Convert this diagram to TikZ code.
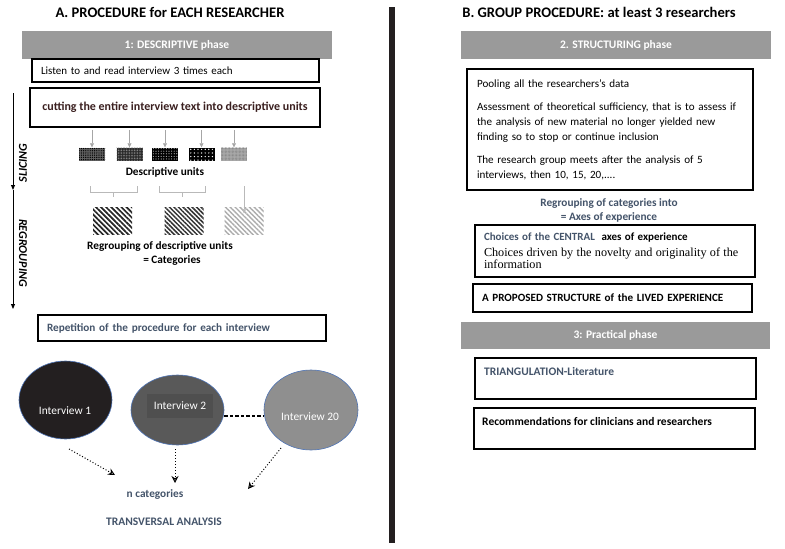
\documentclass[tikz,border=0pt]{standalone}
\usepackage{fontspec}
\setmainfont{Carlito}
\newfontfamily\timesf{Liberation Serif}
\usetikzlibrary{arrows.meta,patterns,patterns.meta,shapes.geometric}
\definecolor{bluegrey}{HTML}{44546A}
\definecolor{bargrey}{HTML}{9A9A9A}
\definecolor{cutcol}{HTML}{3A1F1F}
\definecolor{ringblue}{HTML}{4F74B5}
\definecolor{darkfill}{HTML}{231F20}
\begin{document}
\begin{tikzpicture}[x=1pt,y=-1pt,
  every node/.style={inner sep=0pt},
  title/.style={font=\bfseries\fontsize{14.6}{16}\selectfont},
  bar/.style={fill=bargrey, text=white, font=\bfseries\fontsize{11.5}{13}\selectfont, minimum height=28pt},
  box/.style={draw=black, line width=2pt, fill=white},
  gArrow/.style={draw=gray!70, line width=0.7pt, -{Triangle[length=4pt,width=4pt]}},
  brack/.style={draw=gray!55, line width=0.8pt},
  sideArrow/.style={draw=black, line width=0.9pt, -{Triangle[length=5pt,width=4pt]}},
  sideLab/.style={font=\bfseries\itshape\fontsize{12}{14}\selectfont},
  unit/.style={minimum width=26pt, minimum height=13pt},
  cat/.style={minimum width=39pt, minimum height=27pt},
  blab/.style={font=\bfseries\fontsize{11.3}{13}\selectfont},
  bgt/.style={text=bluegrey, font=\bfseries\fontsize{11.3}{13}\selectfont},
  ifont/.style={text=white, font=\fontsize{11.4}{13}\selectfont},
  interv/.style={ellipse, draw=ringblue, line width=0.6pt},
  dotArrow/.style={draw=black, dotted, line width=1pt, -{Stealth[open,length=7pt,width=7pt]}}
]
\useasboundingbox (0,0) rectangle (785,549);
\fill[white] (0,0) rectangle (785,549);

% ---------- Left half ----------
\node[title] (titleA) at (170,12) {A. PROCEDURE for EACH RESEARCHER};
\node[bar, minimum width=310pt] (bar1) at (177,45) {1: DESCRIPTIVE phase};

\node[box, minimum height=23pt, text width=269pt, inner xsep=9pt, align=left, font=\fontsize{11}{13}\selectfont] (listen) at (175.5,70.5) {Listen to and read interview 3 times each};
\node[box, line width=2.5pt, minimum width=290pt, minimum height=39pt, text=cutcol, font=\bfseries\fontsize{12}{14}\selectfont] (cut) at (175,107.5) {cutting the entire interview text into descriptive units};

% descriptive units
\node[unit, preaction={fill=gray!75!black}, pattern={Dots[distance=2.2pt,radius=0.7pt]}, pattern color=black] (du1) at (92,154) {};
\node[unit, preaction={fill=black!85}, pattern={Dots[distance=1.6pt,radius=0.45pt]}, pattern color=gray!70] (du2) at (129.5,154) {};
\node[unit, preaction={fill=black}, pattern={Dots[distance=2.6pt,radius=0.6pt]}, pattern color=gray!60] (du3) at (165,154) {};
\node[unit, preaction={fill=black}, pattern={Dots[distance=3.6pt,radius=0.7pt]}, pattern color=white] (du4) at (201.5,154) {};
\node[unit, preaction={fill=gray!65}, pattern={Dots[distance=1.4pt,radius=0.45pt]}, pattern color=gray!100] (du5) at (234,154) {};
\foreach \u in {du1,du2,du3,du4,du5}
  \draw[gArrow] (cut.south -| \u) ++(0,1.5) -- (\u.north);

\node[blab] (dulab) at (165,172) {Descriptive units};

% brackets
\draw[brack] (90,186) -- (90,192) -- (137,192) -- (137,186);
\draw[brack] (113.5,192) -- (113.5,197);
\draw[brack] (159,186) -- (159,192) -- (205,192) -- (205,186);
\draw[brack] (182,192) -- (182,197);

% categories
\node[cat, pattern={Lines[angle=-45,distance=3.6pt,line width=1.7pt]}, pattern color=black!85] (cat1) at (112.5,220.5) {};
\node[cat, pattern={Lines[angle=-45,distance=3.2pt,line width=1.5pt]}, pattern color=black!80] (cat2) at (184,220.5) {};
\node[cat, pattern={Lines[angle=-45,distance=3.4pt,line width=1.4pt]}, pattern color=gray!65] (cat3) at (244,220.5) {};
\draw[gArrow, draw=gray!55] (cat3.north |- 0,186) -- ([yshift=-7pt]cat3.north);

\node[blab] (reglab) at (160,246) {Regrouping of descriptive units};
\node[blab] (catlab) at (172,260) {= Categories};

% side arrows
\coordinate (sTop) at (13,93);
\coordinate (sMid) at (13,190);
\coordinate (sBot) at (13,309);
\draw[sideArrow] (sTop) -- (sMid);
\draw[sideArrow] (sMid) -- (sBot);
\node[sideLab, rotate=90] (slic) at (23,163) {SLICING};
\node[sideLab, rotate=-90] (regr) at (23,253) {REGROUPING};

\node[box, minimum height=26pt, text width=270pt, inner xsep=9pt, align=left, text=bluegrey, font=\bfseries\fontsize{11.2}{13}\selectfont] (rep) at (182,328) {Repetition of the procedure for each interview};

% interviews
\node[interv, fill=darkfill, minimum width=93pt, minimum height=78pt] (e1) at (65.5,400) {};
\node[ifont] (e1t) at (65,411) {Interview 1};
\node[interv, fill=black!65, minimum width=93pt, minimum height=70pt] (e2) at (177.5,410) {};
\node[ifont, fill=black!69, minimum width=66pt, minimum height=24pt] (e2t) at (180,406) {Interview 2};
\node[interv, fill=black!44, minimum width=94pt, minimum height=80pt] (e3) at (311,410) {};
\node[ifont] (e3t) at (310,417) {Interview 20};
\draw[dashed, line width=1.2pt, dash pattern=on 3.5pt off 2pt] (e2.east |- 0,416) -- (e3.west |- 0,416);

\node[bgt] (ncat) at (155,494) {n categories};
\node[bgt, font=\bfseries\fontsize{11.5}{13}\selectfont] (trans) at (164,522) {TRANSVERSAL ANALYSIS};
\coordinate (a1s) at (69,449);  \coordinate (a1e) at (115,475);
\coordinate (a2s) at (175,449); \coordinate (a2e) at (175,483);
\coordinate (a3s) at (281,448); \coordinate (a3e) at (248,489);
\draw[dotArrow] (a1s) -- (a1e);
\draw[dotArrow] (a2s) -- (a2e);
\draw[dotArrow] (a3s) -- (a3e);

% divider
\draw[line width=6pt, draw=darkfill] (391.5,7) -- (391.5,543);

% ---------- Right half ----------
\node[title] (titleB) at (599,12) {B. GROUP PROCEDURE: at least 3 researchers};
\node[bar, minimum width=310pt] (bar2) at (616,45) {2. STRUCTURING phase};

\node[box, minimum height=121pt, text width=266pt, inner xsep=10pt, align=left, font=\fontsize{11.1}{15}\selectfont] (struct) at (610,129.5)
 {Pooling all the researchers's data\\[8pt]
  Assessment of theoretical sufficiency, that is to assess if\\
  the analysis of new material no longer yielded new\\
  finding so to stop or continue inclusion\\[8pt]
  The research group meets after the analysis of 5\\
  interviews, then 10, 15, 20,....};

\node[bgt] (regcat) at (609,203) {Regrouping of categories into};
\node[bgt] (axes) at (609,217) {= Axes of experience};

\node[box, minimum height=52pt, text width=262pt, inner xsep=9pt, align=left] (choices) at (615,251)
 {{\bfseries\fontsize{11}{12}\selectfont\textcolor{bluegrey}{Choices of the CENTRAL}\ \ axes of experience}\\[3.5pt]
  {\timesf\fontsize{12.2}{12.5}\selectfont Choices driven by the novelty and originality of the\\ information}};

\node[box, minimum height=28pt, text width=261pt, inner xsep=9pt, align=left, font=\bfseries\fontsize{11.1}{13}\selectfont] (proposed) at (612.5,298) {A PROPOSED STRUCTURE of the LIVED EXPERIENCE};

\node[bar, minimum width=309pt, minimum height=27pt] (bar3) at (615.5,335.5) {3: Practical phase};

\node[box, minimum width=281pt, minimum height=41pt] (triang) at (615.5,378.5) {};
\node[bgt, font=\bfseries\fontsize{11.5}{13}\selectfont, anchor=west] (triangt) at (484,372) {TRIANGULATION-Literature};
\node[box, minimum width=281pt, minimum height=41pt] (recom) at (614.5,428.5) {};
\node[blab, font=\bfseries\fontsize{11.5}{13}\selectfont, anchor=west] (recomt) at (482,421) {Recommendations for clinicians and researchers};
\end{tikzpicture}
\end{document}
